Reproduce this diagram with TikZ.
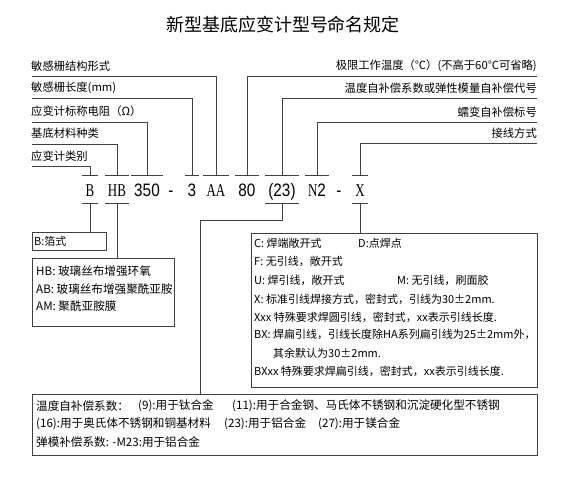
\documentclass[tikz,border=0pt]{standalone}
\usepackage{fontspec}
\setmainfont{Liberation Sans}
\newfontfamily\cjk{Noto Sans CJK SC}
\newfontfamily\cl[FakeStretch=0.72]{Liberation Serif}
\newfontfamily\cd[FakeStretch=0.85]{Liberation Sans}
\begin{document}
\begin{tikzpicture}[x=1pt,y=-1pt,
  ln/.style={draw=black!75, line width=0.9pt},
  lab/.style={inner sep=0pt, font=\cjk\fontsize{11.3}{13}\selectfont},
  txt/.style={inner sep=0pt, anchor=west, font=\cjk\fontsize{11}{13}\selectfont},
  txtw/.style={txt, font=\cjk\fontsize{11.6}{13}\selectfont},
  code/.style={inner xsep=3pt, inner ysep=0pt, minimum height=28pt, text height=13pt, text depth=0pt, font=\fontsize{18}{18}\selectfont},
  bx/.style={draw=black!75, line width=0.9pt, inner sep=0pt, anchor=north west}
]
\useasboundingbox (0,0) rectangle (566,480);

\node (title) at (283,25) {\cjk\fontsize{18}{18}\selectfont 新型基底应变计型号命名规定};

% code characters
\node[code] (cB)   at (90,189.5)  {\cl B};
\node[code] (cHB)  at (117,189.5) {\cl HB};
\node[code] (c350) at (147,189.5) {\cd 350};
\node[code] (cd1)  at (171,189.5) {\cd -};
\node[code] (c3)   at (192,189.5) {\cd 3};
\node[code] (cAA)  at (216,189.5) {\cl AA};
\node[code] (c80)  at (247,189.5) {\cd 80};
\node[code] (c23)  at (282,189.5) {\cd (23)};
\node[code] (cN2)  at (317,189.5) {\cl N\cd 2};
\node[code] (cd2)  at (339,189.5) {\cd -};
\node[code] (cX)   at (360,189.5) {\cl X};

% ticks
\foreach \n in {cB,cHB,c350,c3,cAA,c80,c23,cN2,cX}
  \draw[ln] (\n.north west) -- (\n.north east);
\foreach \n in {cB,cHB,c23,cX}
  \draw[ln] (\n.south west) -- (\n.south east);

% left labels
\node[lab, anchor=west] (l1) at (31,66)  {敏感栅结构形式};
\node[lab, anchor=west] (l2) at (31,88)  {敏感栅长度(mm)};
\node[lab, anchor=west] (l3) at (31,111) {应变计标称电阻（Ω）};
\node[lab, anchor=west] (l4) at (31,133) {基底材料种类};
\node[lab, anchor=west] (l5) at (31,156) {应变计类别};
\coordinate (s1) at (32,76);
\coordinate (s2) at (32,98);
\coordinate (s3) at (32,122);
\coordinate (s4) at (32,144);
\coordinate (s5) at (32,166);
\draw[ln] (s1) -| (cAA.north);
\draw[ln] (s2) -| (c3.north);
\draw[ln] (s3) -| (c350.north);
\draw[ln] (s4) -| (cHB.north);
\draw[ln] (s5) -| (cB.north);

% right labels
\node[lab, anchor=east] (r1l) at (537,66)  {极限工作温度（℃）(不高于60℃可省略)};
\node[lab, anchor=east] (r2l) at (537,88)  {温度自补偿系数或弹性模量自补偿代号};
\node[lab, anchor=east] (r3l) at (537,112) {蠕变自补偿标号};
\node[lab, anchor=east] (r4l) at (537,133) {接线方式};
\coordinate (r1) at (537,76);
\coordinate (r2) at (537,98);
\coordinate (r3) at (537,122);
\coordinate (r4) at (537,143);
\draw[ln] (r1) -| (c80.north);
\draw[ln] (r2) -| (c23.north);
\draw[ln] (r3) -| (cN2.north);
\draw[ln] (r4) -| (cX.north);

% boxes
\node[bx, minimum width=74pt, minimum height=18pt] (boxB) at (32,232) {};
\node[bx, minimum width=142pt, minimum height=68pt] (boxHB) at (32,258) {};
\node[bx, minimum width=286pt, minimum height=154pt] (boxR) at (251,233) {};
\node[bx, minimum width=505pt, minimum height=61pt] (boxBot) at (32,394) {};

\draw[ln] (cB.south) -- (cB.south |- boxB.north);
\draw[ln] (cHB.south) -- (cHB.south |- boxHB.north);
\draw[ln] (cX.south) -- (cX.south |- boxR.north);
\coordinate (j23) at (200,220);
\draw[ln] (c23.south) |- (j23) -- (j23 |- boxBot.north);

% box texts
\node[txt] (tB) at (34,241) {B:箔式};
\node[txtw] (tHB) at (36,271) {HB: 玻璃丝布增强环氧};
\node[txtw] (tAB) at (36,289) {AB: 玻璃丝布增强聚酰亚胺};
\node[txtw] (tAM) at (36,306) {AM: 聚酰亚胺膜};

\node[txt] (tC)  at (254,243) {C: 焊端敞开式};
\node[txt] (tD)  at (358,243) {D:点焊点};
\node[txt] (tF)  at (254,261) {F: 无引线，敞开式};
\node[txt] (tU)  at (254,280) {U: 焊引线，敞开式};
\node[txt] (tM)  at (397,280) {M: 无引线，刷面胶};
\node[txt] (tX)  at (254,299) {X: 标准引线焊接方式，密封式，引线为30±2mm.};
\node[txt] (tXx) at (254,317) {Xxx 特殊要求焊圆引线，密封式，xx表示引线长度.};
\node[txt] (tBX) at (254,334) {BX: 焊扁引线，引线长度除HA系列扁引线为25±2mm外，};
\node[txt] (tQY) at (273,353) {其余默认为30±2mm.};
\node[txt] (tBXx) at (254,371) {BXxx 特殊要求焊扁引线，密封式，xx表示引线长度.};

\node[txtw] (b1a) at (36,406)  {温度自补偿系数：};
\node[txtw] (b1b) at (138,406) {(9):用于钛合金};
\node[txtw] (b1c) at (232,406) {(11):用于合金钢、马氏体不锈钢和沉淀硬化型不锈钢};
\node[txtw] (b2a) at (36,424)  {(16):用于奥氏体不锈钢和铜基材料};
\node[txtw] (b2b) at (224,424) {(23):用于铝合金};
\node[txtw] (b2c) at (318,424) {(27):用于镁合金};
\node[txtw] (b3a) at (36,442)  {弹模补偿系数: -M23:用于铝合金};
\end{tikzpicture}
\end{document}
